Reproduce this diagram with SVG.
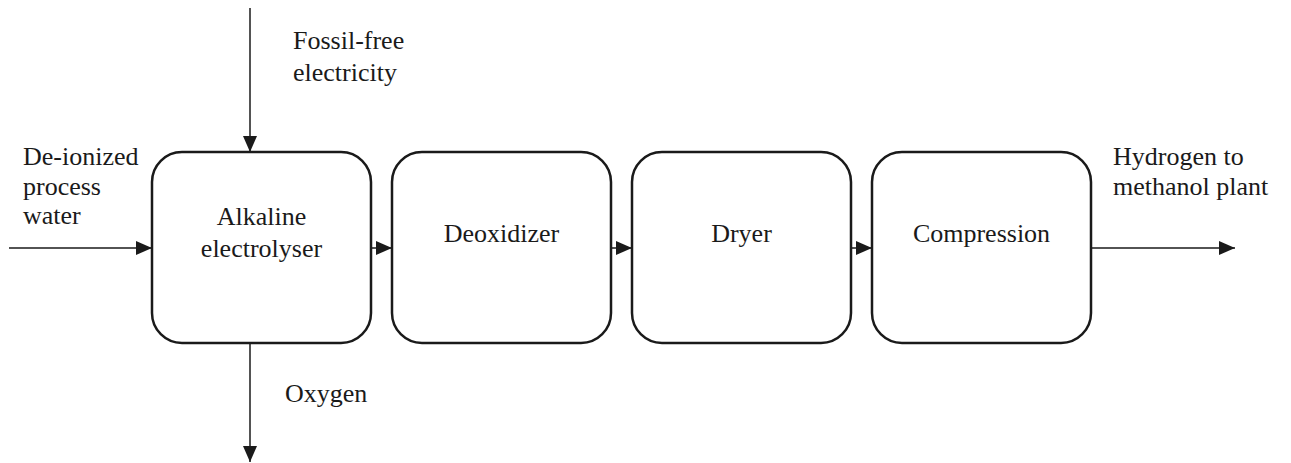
<svg xmlns="http://www.w3.org/2000/svg" width="1291" height="463" viewBox="0 0 1291 463">
  <style>
    .box { fill: #ffffff; stroke: #1a1a1a; stroke-width: 2.5; }
    .flow { fill: none; stroke: #1a1a1a; stroke-width: 1.5; marker-end: url(#head); }
    .lbl { font-family: 'Liberation Serif', 'Times New Roman', Times, serif; font-size: 26px; fill: #1a1a1a; }
    .mid { text-anchor: middle; }
  </style>
  <defs>
    <marker id="head" viewBox="0 0 16 14" refX="16" refY="7" markerWidth="16" markerHeight="14" markerUnits="userSpaceOnUse" orient="auto">
      <path d="M0,0 L16,7 L0,14 Z" fill="#1a1a1a"/>
    </marker>
  </defs>

  <rect width="1291" height="463" fill="#ffffff"/>

  <!-- process flow lines -->
  <g id="connectors">
    <line class="flow" x1="250" y1="8" x2="250" y2="152"/>
    <line class="flow" x1="9" y1="248" x2="152" y2="248"/>
    <line class="flow" x1="371" y1="248" x2="392" y2="248"/>
    <line class="flow" x1="611" y1="248" x2="632" y2="248"/>
    <line class="flow" x1="851" y1="248" x2="872" y2="248"/>
    <line class="flow" x1="1091" y1="248" x2="1235" y2="248"/>
    <line class="flow" x1="250" y1="343" x2="250" y2="462"/>
  </g>

  <g id="electrolyser">
    <rect class="box" x="152" y="152" width="219" height="191" rx="30" ry="30"/>
    <text class="lbl mid" x="261.5" y="225">Alkaline</text>
    <text class="lbl mid" x="261.5" y="257">electrolyser</text>
  </g>

  <g id="deoxidizer">
    <rect class="box" x="392" y="152" width="219" height="191" rx="30" ry="30"/>
    <text class="lbl mid" x="501.5" y="242">Deoxidizer</text>
  </g>

  <g id="dryer">
    <rect class="box" x="632" y="152" width="219" height="191" rx="30" ry="30"/>
    <text class="lbl mid" x="741.5" y="242">Dryer</text>
  </g>

  <g id="compression">
    <rect class="box" x="872" y="152" width="219" height="191" rx="30" ry="30"/>
    <text class="lbl mid" x="981.5" y="242">Compression</text>
  </g>

  <!-- stream labels -->
  <g id="label-electricity">
    <text class="lbl" x="293" y="49">Fossil-free</text>
    <text class="lbl" x="293" y="81">electricity</text>
  </g>
  <g id="label-water">
    <text class="lbl" x="23" y="165">De-ionized</text>
    <text class="lbl" x="23" y="195">process</text>
    <text class="lbl" x="23" y="224">water</text>
  </g>
  <g id="label-oxygen">
    <text class="lbl" x="285" y="402">Oxygen</text>
  </g>
  <g id="label-hydrogen">
    <text class="lbl" x="1113" y="165">Hydrogen to</text>
    <text class="lbl" x="1113" y="195">methanol plant</text>
  </g>
</svg>
